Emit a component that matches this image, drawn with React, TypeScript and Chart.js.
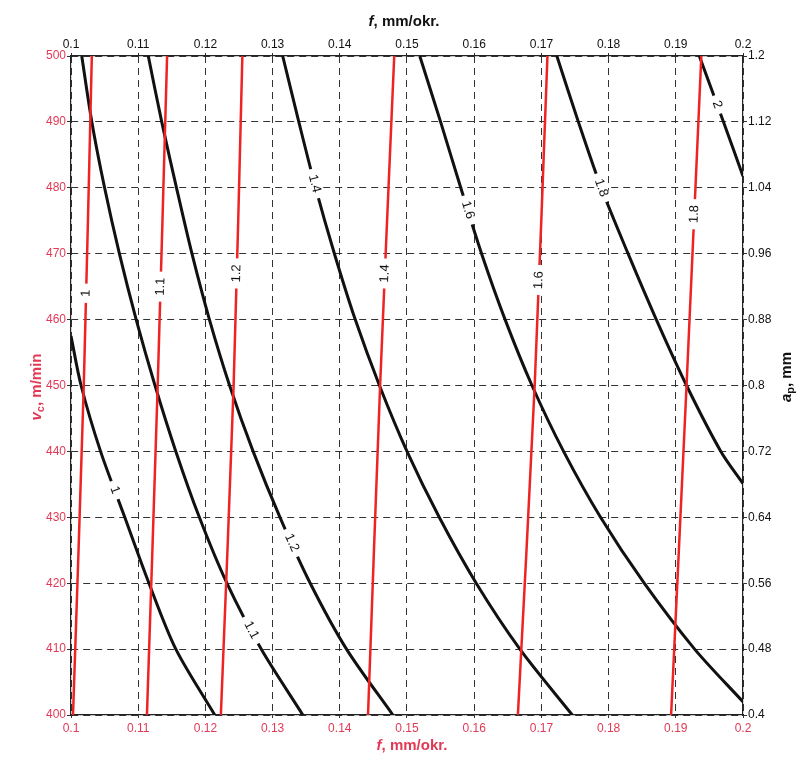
import React, { useEffect, useRef } from 'react';
import { Chart, registerables } from 'chart.js';

Chart.register(...registerables);

// ---------- axis ticks ----------
const fTicks = [0.1, 0.11, 0.12, 0.13, 0.14, 0.15, 0.16, 0.17, 0.18, 0.19, 0.2];
const fTickLabels = ['0.1', '0.11', '0.12', '0.13', '0.14', '0.15', '0.16', '0.17', '0.18', '0.19', '0.2'];
const vTicks = [400, 410, 420, 430, 440, 450, 460, 470, 480, 490, 500];
const vTickLabels = ['400', '410', '420', '430', '440', '450', '460', '470', '480', '490', '500'];
const apTicks = [0.4, 0.48, 0.56, 0.64, 0.72, 0.8, 0.88, 0.96, 1.04, 1.12, 1.2];
const apTickLabels = ['0.4', '0.48', '0.56', '0.64', '0.72', '0.8', '0.88', '0.96', '1.04', '1.12', '1.2'];

// ---------- red contours (v_c vs f) ----------
const redV = [400, 450, 500];
const red1F = [0.1003, 0.1019, 0.1031];
const red11F = [0.1113, 0.1129, 0.1143];
const red12F = [0.1223, 0.1242, 0.1255];
const red14F = [0.1442, 0.146, 0.1481];
const red16F = [0.1665, 0.169, 0.1709];
const red18F = [0.1893, 0.1916, 0.1938];
const redLabels = ['1', '1.1', '1.2', '1.4', '1.6', '1.8'];
const redLabelV = [464, 465, 467, 467, 466, 476];

// ---------- black contours (a_p vs f) ----------
const black1Ap = [0.86, 0.8, 0.72, 0.64, 0.56, 0.48, 0.4];
const black1F = [0.1, 0.1015, 0.1044, 0.108, 0.1116, 0.1156, 0.1214];
const blackAp = [1.2, 1.12, 1.04, 0.96, 0.88, 0.8, 0.72, 0.64, 0.56, 0.48, 0.4];
const black11F = [0.1016, 0.1031, 0.105, 0.1072, 0.1097, 0.1125, 0.1156, 0.1191, 0.1232, 0.1283, 0.1345];
const black12F = [0.1115, 0.1135, 0.1157, 0.118, 0.1206, 0.1236, 0.1271, 0.1311, 0.1356, 0.141, 0.1479];
const black14F = [0.1315, 0.1339, 0.1364, 0.1392, 0.1423, 0.1459, 0.15, 0.1548, 0.1603, 0.1668, 0.1746];
const black16Ap = [1.2, 1.12, 1.04, 0.96, 0.88, 0.8, 0.72, 0.64, 0.56, 0.48, 0.416];
const black16F = [0.1519, 0.155, 0.158, 0.1611, 0.1646, 0.1686, 0.1733, 0.1788, 0.1853, 0.1928, 0.2];
const black18Ap = [1.2, 1.12, 1.04, 0.96, 0.88, 0.8, 0.72, 0.681];
const black18F = [0.1723, 0.1755, 0.1789, 0.1829, 0.1871, 0.1916, 0.1967, 0.2];
const black2Ap = [1.2, 1.12, 1.054];
const black2F = [0.1935, 0.1971, 0.2];
const blackLabels = ['1', '1.1', '1.2', '1.4', '1.6', '1.8', '2'];
const blackLabelAp = [0.673, 0.503, 0.609, 1.045, 1.013, 1.04, 1.141];

const RED = '#ee2424';
const RED_TEXT = '#e23a55';
const BLACK = '#111111';
const FONT = '"Liberation Sans", Arial, sans-serif';

const redSeries = [red1F, red11F, red12F, red14F, red16F, red18F];
const blackSeries: [number[], number[]][] = [
  [black1F, black1Ap],
  [black11F, blackAp],
  [black12F, blackAp],
  [black14F, blackAp],
  [black16F, black16Ap],
  [black18F, black18Ap],
  [black2F, black2Ap],
];

const contourLabelPlugin = {
  id: 'contourLabels',
  afterDatasetsDraw(chart: any) {
    const ctx = chart.ctx;
    chart.data.datasets.forEach((ds: any, i: number) => {
      if (!ds.labelText) return;
      const meta = chart.getDatasetMeta(i);
      const yScale = chart.scales[ds.yAxisID];
      const ty = yScale.getPixelForValue(ds.labelAt);
      const pts = meta.data;
      for (let k = 0; k < pts.length - 1; k++) {
        const a = pts[k];
        const b = pts[k + 1];
        if ((a.y - ty) * (b.y - ty) <= 0 && a.y !== b.y) {
          const t = (ty - a.y) / (b.y - a.y);
          const x = a.x + t * (b.x - a.x);
          let dx = b.x - a.x;
          let dy = b.y - a.y;
          if (dx < 0 || (dx === 0 && dy > 0)) {
            dx = -dx;
            dy = -dy;
          }
          const ang = Math.atan2(dy, dx);
          ctx.save();
          ctx.translate(x, ty);
          ctx.rotate(ang);
          ctx.font = '13px ' + FONT;
          const w = ctx.measureText(ds.labelText).width;
          ctx.fillStyle = '#ffffff';
          ctx.fillRect(-w / 2 - 6, -6, w + 12, 12);
          ctx.fillStyle = '#111';
          ctx.textAlign = 'center';
          ctx.textBaseline = 'middle';
          ctx.fillText(ds.labelText, 0, 0);
          ctx.restore();
          break;
        }
      }
    });
  },
};

type Part = { text: string; font: string; dy?: number };
function drawRich(ctx: CanvasRenderingContext2D, parts: Part[], cx: number, cy: number, rot: number, color: string) {
  ctx.save();
  ctx.translate(cx, cy);
  ctx.rotate(rot);
  ctx.fillStyle = color;
  ctx.textBaseline = 'middle';
  ctx.textAlign = 'left';
  let total = 0;
  parts.forEach((p) => {
    ctx.font = p.font;
    total += ctx.measureText(p.text).width;
  });
  let x = -total / 2;
  parts.forEach((p) => {
    ctx.font = p.font;
    ctx.fillText(p.text, x, p.dy || 0);
    x += ctx.measureText(p.text).width;
  });
  ctx.restore();
}

const titlePlugin = {
  id: 'axisTitles',
  afterDraw(chart: any) {
    const ctx = chart.ctx;
    const b = 'bold 15px ' + FONT;
    const bi = 'italic bold 15px ' + FONT;
    const sub = 'bold 11px ' + FONT;
    const fParts = [
      { text: 'f', font: bi },
      { text: ', mm/okr.', font: b },
    ];
    drawRich(ctx, fParts, 404, 22, 0, '#111');
    drawRich(ctx, fParts, 412, 746, 0, RED_TEXT);
    drawRich(
      ctx,
      [
        { text: 'v', font: bi },
        { text: 'c', font: sub, dy: 4 },
        { text: ', m/min', font: b },
      ],
      37,
      387,
      -Math.PI / 2,
      RED_TEXT
    );
    drawRich(
      ctx,
      [
        { text: 'a', font: bi },
        { text: 'p', font: sub, dy: 4 },
        { text: ', mm', font: b },
      ],
      787,
      377,
      -Math.PI / 2,
      '#111'
    );
  },
};

export default function App() {
  const ref = useRef<HTMLCanvasElement | null>(null);

  useEffect(() => {
    document.body.style.margin = '0';
    const canvas = ref.current;
    if (!canvas) return;

    const datasets: any[] = [];
    redSeries.forEach((fs, i) => {
      datasets.push({
        data: fs.map((f, k) => ({ x: f, y: redV[k] })),
        xAxisID: 'x',
        yAxisID: 'y',
        borderColor: RED,
        borderWidth: 2.5,
        pointRadius: 0,
        showLine: true,
        tension: 0.3,
        labelText: redLabels[i],
        labelAt: redLabelV[i],
      });
    });
    blackSeries.forEach(([fs, aps], i) => {
      datasets.push({
        data: fs.map((f, k) => ({ x: f, y: aps[k] })),
        xAxisID: 'x',
        yAxisID: 'y2',
        borderColor: BLACK,
        borderWidth: 3,
        pointRadius: 0,
        showLine: true,
        tension: 0.3,
        labelText: blackLabels[i],
        labelAt: blackLabelAp[i],
      });
    });

    const tickFont = { family: FONT, size: 12 };
    const dash = [7, 5];

    const chart = new Chart(canvas, {
      type: 'scatter',
      data: { datasets },
      options: {
        animation: false,
        responsive: false,
        devicePixelRatio: 1,
        layout: { padding: 0 },
        plugins: { legend: { display: false }, tooltip: { enabled: false }, title: { display: false } },
        scales: {
          x: {
            type: 'linear',
            position: 'bottom',
            min: 0.1,
            max: 0.2,
            afterFit: (s: any) => {
              s.height = 45;
            },
            afterBuildTicks: (s: any) => {
              s.ticks = fTicks.map((v) => ({ value: v }));
            },
            ticks: {
              autoSkip: false,
              maxRotation: 0,
              padding: 3,
              color: RED_TEXT,
              font: tickFont,
              callback: (_v: any, i: number) => fTickLabels[i],
            },
            grid: { color: '#333', lineWidth: 1, tickLength: 3, drawTicks: true },
            border: { display: true, color: '#222', width: 1.2, dash },
          },
          x2: {
            type: 'linear',
            position: 'top',
            min: 0.1,
            max: 0.2,
            afterFit: (s: any) => {
              s.height = 56;
            },
            afterBuildTicks: (s: any) => {
              s.ticks = fTicks.map((v) => ({ value: v }));
            },
            ticks: {
              autoSkip: false,
              maxRotation: 0,
              padding: 1,
              color: '#111',
              font: tickFont,
              callback: (_v: any, i: number) => fTickLabels[i],
            },
            grid: { drawOnChartArea: false, color: '#333', tickLength: 3 },
            border: { display: true, color: '#222', width: 1.2 },
          },
          y: {
            type: 'linear',
            position: 'left',
            min: 400,
            max: 500,
            afterFit: (s: any) => {
              s.width = 71;
            },
            afterBuildTicks: (s: any) => {
              s.ticks = vTicks.map((v) => ({ value: v }));
            },
            ticks: {
              autoSkip: false,
              padding: 1,
              color: RED_TEXT,
              font: tickFont,
              callback: (_v: any, i: number) => vTickLabels[i],
            },
            grid: { color: '#333', lineWidth: 1, tickLength: 4, drawTicks: true },
            border: { display: true, color: '#222', width: 1.2, dash },
          },
          y2: {
            type: 'linear',
            position: 'right',
            min: 0.4,
            max: 1.2,
            afterFit: (s: any) => {
              s.width = 61;
            },
            afterBuildTicks: (s: any) => {
              s.ticks = apTicks.map((v) => ({ value: v }));
            },
            ticks: {
              autoSkip: false,
              padding: 1,
              color: '#111',
              font: tickFont,
              callback: (_v: any, i: number) => apTickLabels[i],
            },
            grid: { drawOnChartArea: false, color: '#333', tickLength: 4 },
            border: { display: true, color: '#222', width: 1.2 },
          },
        },
      } as any,
      plugins: [contourLabelPlugin, titlePlugin],
    });

    return () => chart.destroy();
  }, []);

  return (
    <div style={{ width: 804, height: 760, background: '#fff' }}>
      <canvas ref={ref} width={804} height={760} style={{ display: 'block' }} />
    </div>
  );
}
